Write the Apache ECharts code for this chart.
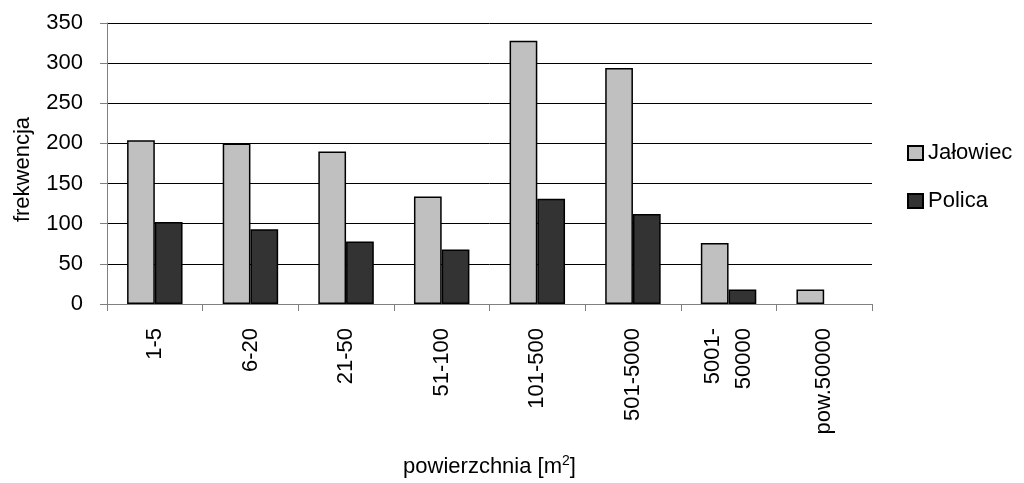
<!DOCTYPE html>
<html>
<head>
<meta charset="utf-8">
<script src="https://cdn.jsdelivr.net/npm/echarts@6/dist/echarts.min.js"></script>
<style>
  html, body { margin: 0; padding: 0; background: #fff; }
  #chart { width: 1024px; height: 483px; }
</style>
</head>
<body>
<div id="chart"></div>
<script>
// Area classes (m²)
const categories = ['1-5', '6-20', '21-50', '51-100', '101-500', '501-5000', '5001-\n50000', 'pow.50000'];
// Frequency per class ('-' = no records)
const jalowiec = [204, 200, 190, 134, 328, 294, 76, 18];
const polica = [102, 93, 78, 68, 131, 112, 18, '-'];
// Y axis scale
const yMin = 0;
const yMax = 350;
const yStep = 50;

const FONT = 'Liberation Sans, Arial, sans-serif';
const FS = 22;
const chart = echarts.init(document.getElementById('chart'), null, { renderer: 'canvas' });

chart.setOption({
  animation: false,
  backgroundColor: '#ffffff',
  textStyle: { fontFamily: FONT, color: '#000' },
  grid: { left: 107, right: 152, top: 23, bottom: 179, containLabel: false, outerBoundsMode: 'none' },
  legend: {
    orient: 'vertical',
    left: 902,
    top: 137,
    itemWidth: 15,
    itemHeight: 14,
    itemGap: 26,
    icon: 'rect',
    textStyle: { fontFamily: FONT, fontSize: FS, color: '#000' },
    data: ['Jałowiec', 'Polica']
  },
  xAxis: {
    type: 'category',
    data: categories,
    name: 'powierzchnia [m{sup|2}]',
    nameLocation: 'middle',
    nameGap: 150,
    nameTextStyle: {
      fontFamily: FONT,
      fontSize: FS,
      color: '#000',
      rich: {
        sup: { fontFamily: FONT, fontSize: 14, color: '#000', padding: [0, 0, 12, 0] }
      }
    },
    axisLine: { show: true, lineStyle: { color: '#808080', width: 1 } },
    axisTick: { show: true, length: 7, inside: false, lineStyle: { color: '#808080' } },
    axisLabel: {
      rotate: 90,
      margin: 24,
      interval: 0,
      fontFamily: FONT,
      fontSize: FS,
      lineHeight: 31,
      color: '#000'
    },
    splitLine: { show: false }
  },
  yAxis: {
    type: 'value',
    min: yMin,
    max: yMax,
    interval: yStep,
    name: 'frekwencja',
    nameLocation: 'middle',
    nameGap: 73,
    nameRotate: 90,
    nameTextStyle: { fontFamily: FONT, fontSize: FS, color: '#000', padding: [0, 12, 0, 0] },
    axisLine: { show: true, lineStyle: { color: '#808080', width: 1 } },
    axisTick: { show: true, length: 7, lineStyle: { color: '#808080' } },
    axisLabel: { margin: 24, fontFamily: FONT, fontSize: FS, color: '#000' },
    splitLine: { show: true, lineStyle: { color: '#000', width: 1 } }
  },
  series: [
    {
      name: 'Jałowiec',
      type: 'bar',
      data: jalowiec,
      barGap: '0%',
      barCategoryGap: '42%',
      itemStyle: { color: '#c0c0c0', borderColor: '#000', borderWidth: 1.5 }
    },
    {
      name: 'Polica',
      type: 'bar',
      data: polica,
      barGap: '0%',
      barCategoryGap: '42%',
      itemStyle: { color: '#333333', borderColor: '#000', borderWidth: 1.5 }
    }
  ]
});
</script>
</body>
</html>
